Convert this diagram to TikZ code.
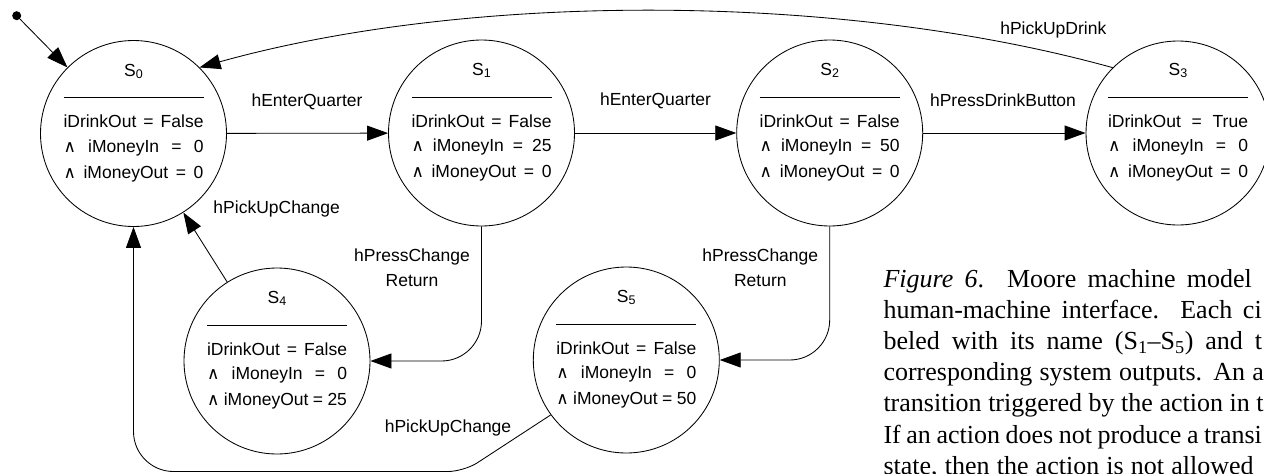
\documentclass[tikz,border=0pt]{standalone}
\usepackage{fontspec}
\setmainfont{Liberation Sans}
\newfontfamily\capfont{Liberation Serif}
\newfontfamily\symfont{DejaVu Sans}
\usetikzlibrary{arrows.meta}

% logical "and" glyph and state name with subscript index
\newcommand\wedgesym{{\symfont\fontsize{17}{17}\selectfont ∧}}
\newcommand\stname[1]{S\raisebox{-1.8pt}{\fontsize{12.5}{12.5}\selectfont #1}}

% contents of one state: name, rule, and the three output lines
\newcommand\stbody[5]{%
  \node[anchor=base] (#1-id) at ([yshift=57.3pt]#1.center) {\stname{#2}};
  \draw[line width=0.7pt] ([shift={(-70pt,35.7pt)}]#1.center) coordinate (#1-rl)
        -- ([shift={(70pt,35.7pt)}]#1.center) coordinate (#1-rr);
  \node[anchor=base] (#1-a) at ([yshift=5.7pt]#1.center) {\makebox[140pt][s]{iDrinkOut = #3}};
  \node[anchor=base] (#1-b) at ([yshift=-18.7pt]#1.center) {\makebox[140pt][s]{\wedgesym{} iMoneyIn = #4}};
  \node[anchor=base] (#1-c) at ([yshift=-44.7pt]#1.center) {\makebox[140pt][s]{\wedgesym{} iMoneyOut = #5}};
}

\begin{document}
\begin{tikzpicture}[x=1pt,y=-1pt,
  every node/.style={font=\fontsize{17.5}{20}\selectfont, inner sep=0pt},
  state/.style={circle, draw, line width=0.85pt, minimum size=186pt},
  arr/.style={-{Triangle[length=21pt,width=15pt]}, line width=0.85pt},
  lab/.style={anchor=base},
  capline/.style={anchor=base west, font=\capfont\fontsize{26}{31.2}\selectfont}]
\useasboundingbox (0,0) rectangle (1264,474);
\clip (0,0) rectangle (1264,474);

% states
\node[state] (s0) at (133.5,133.5) {};
\node[state] (s1) at (481.5,133) {};
\node[state] (s2) at (829.7,133) {};
\node[state, minimum size=184pt] (s3) at (1178,133) {};
\node[state] (s4) at (277,361) {};
\node[state] (s5) at (626.3,360) {};

\stbody{s0}{0}{False}{0}{0}
\stbody{s1}{1}{False}{25}{0}
\stbody{s2}{2}{False}{50}{0}
\stbody{s3}{3}{True}{0}{0}
\stbody{s4}{4}{False}{0}{25}
\stbody{s5}{5}{False}{0}{50}

% initial state marker
\node[circle, fill, minimum size=9pt] (init) at (16.7,15.7) {};
\draw[arr] (init) -- (s0.135);

% transitions
\draw[arr] (s0) -- (s1);
\draw[arr] (s1) -- (s2);
\draw[arr] (s2) -- (s3);
\draw[arr] (s3.135) .. controls (840,-8) and (470,-8) .. (s0.45);
\draw[arr] (s4) -- (s0);
\draw[arr, rounded corners=40pt] (s1.south) |- (s4.east);
\draw[arr, rounded corners=40pt] (s2.south) |- (s5.east);
\coordinate (bot) at (464,471.5);
\draw[arr] (s5.216) [rounded corners=16pt] -- (bot) [rounded corners=40pt] -- (s0.south |- bot) -- (s0.south);

% transition labels
\node[lab] (l01) at (307,106) {hEnterQuarter};
\node[lab] (l12) at (655.5,105.3) {hEnterQuarter};
\node[lab] (l23) at (1003,106) {hPressDrinkButton};
\node[lab] (l30) at (1053.3,34) {hPickUpDrink};
\node[lab] (l40) at (276.7,213.3) {hPickUpChange};
\node[lab] (l14a) at (412,261.7) {hPressChange};
\node[lab] (l14b) at (412,286.7) {Return};
\node[lab] (l25a) at (760.3,261.7) {hPressChange};
\node[lab] (l25b) at (760.3,286.7) {Return};
\node[lab] (l50) at (448,432.3) {hPickUpChange};

% caption
\node[capline] (cap1) at (883.3,287) {\makebox[368.4pt][s]{\textit{Figure 6}.  Moore machine model}};
\node[capline] (cap2) at (883.3,318.2) {\makebox[378.2pt][s]{human-machine interface.  Each ci}};
\node[capline] (cap3) at (883.3,349.4) {\makebox[378.7pt][s]{beled with its name (S\textsubscript{1}–S\textsubscript{5}) and t}};
\node[capline] (cap4) at (883.3,380.6) {\makebox[380.5pt][s]{corresponding system outputs.  An a}};
\node[capline] (cap5) at (883.3,411.8) {\makebox[380pt][s]{transition triggered by the action in t}};
\node[capline] (cap6) at (883.3,443) {\makebox[378.4pt][s]{If an action does not produce a transi}};
\node[capline] (cap7) at (883.3,474) {\makebox[370pt][s]{state, then the action is not allowed}};
\end{tikzpicture}
\end{document}
